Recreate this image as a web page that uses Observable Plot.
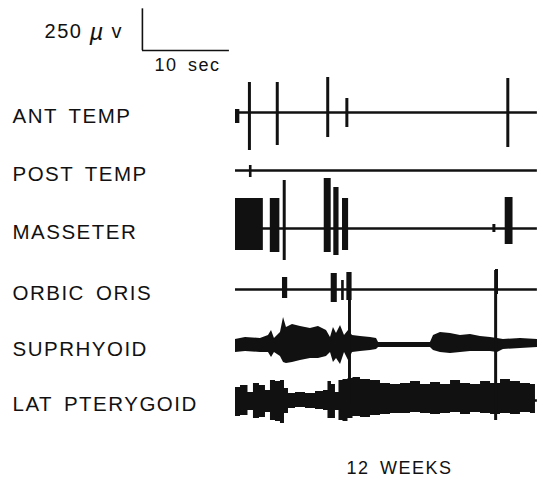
<!DOCTYPE html>
<html><head><meta charset="utf-8">
<script src="https://cdn.jsdelivr.net/npm/d3@7"></script>
<script src="https://cdn.jsdelivr.net/npm/@observablehq/plot@0.6"></script>
<style>
body{margin:0;background:#fff}
#chart svg text{font-family:"Liberation Sans",Arial,sans-serif;letter-spacing:1.5px;word-spacing:4px}
</style>
</head><body><div id="chart"></div>
<script>
// ---- data (time in s, amplitude in µV, up positive) ----
const channels = ["ANT TEMP","POST TEMP","MASSETER","ORBIC ORIS","SUPRHYOID","LAT PTERYGOID"];
const recordLength = 34.7;
const caption = "12 WEEKS";
const scaleBarUV = 250, scaleBarSec = 10;

// single spikes: [channel, t, up, down]
const spikes = [
  [0, 1.6, 180, -228], [0, 4.8, 180, -198], [0, 10.6, 210, -150], [0, 12.8, 84, -90], [0, 31.3, 204, -210],
  [2, 5.6, 288, -192], [2, 29.7, 24, -24],
  [3, 30.0, 120, -30]
];
// bursts: [channel, t1, t2, up, down]
const bursts = [
  [0, 0.0, 0.5, 18, -66],
  [1, 1.6, 1.9, 30, -42],
  [2, 0.0, 3.2, 180, -132], [2, 4.0, 5.1, 180, -144], [2, 10.2, 11.0, 300, -144],
  [2, 11.3, 11.9, 246, -162], [2, 12.3, 13.0, 180, -132], [2, 31.0, 31.9, 186, -96],
  [3, 5.4, 6.0, 72, -54], [3, 11.0, 11.7, 96, -78], [3, 12.2, 12.5, 54, -66], [3, 12.8, 13.4, 102, -66]
];
// spikes crossing traces: [t, fromChannel, fromUp, toChannel, toDown]
const crossSpikes = [[13.1, 3, 102, 5, -18], [29.9, 3, 114, 5, -120]];
// envelopes: [t, up, down]
const suprhyoid = [
  [0,36,-42],[1.15,48,-36],[2.87,42,-42],[3.79,60,-42],[4.14,90,-72],[4.48,42,-42],[5.17,78,-66],
  [5.52,168,-102],[5.86,108,-108],[6.55,126,-102],[7.47,114,-90],[8.62,102,-78],[9.54,114,-78],
  [10.46,90,-66],[10.92,48,-42],[11.26,108,-102],[11.61,72,-78],[12.07,120,-114],[12.53,60,-42],
  [12.99,90,-90],[13.45,60,-42],[14.37,54,-36],[15.52,48,-30],[16.21,42,-24],[16.44,18,-12],
  [18.97,18,-12],[22.41,18,-12],[22.76,60,-30],[23.56,78,-42],[24.71,72,-48],[25.86,60,-42],
  [27.01,66,-36],[28.16,54,-36],[29.31,48,-36],[30.11,42,-42],[30.8,36,-24],[32.76,42,-18],[34.71,36,-12]
];
const latPterygoid = [
  [0,78,-96],[1.15,90,-90],[1.72,48,-60],[2.41,102,-108],[3.1,90,-102],[3.79,60,-72],[4.25,120,-120],
  [4.94,114,-126],[5.4,120,-138],[5.86,72,-78],[6.32,42,-48],[7.47,48,-42],[8.62,42,-48],[9.77,54,-54],
  [10.46,60,-60],[10.8,114,-108],[11.26,96,-108],[11.72,48,-60],[12.07,120,-120],[12.64,126,-126],
  [13.22,132,-108],[13.79,138,-96],[14.94,126,-102],[16.09,120,-90],[17.24,102,-84],[18.39,96,-78],
  [19.54,102,-78],[20.69,114,-72],[21.84,96,-78],[22.99,108,-84],[24.14,96,-78],[25.29,120,-72],
  [26.44,102,-84],[27.59,96,-72],[28.74,114,-78],[29.89,102,-84],[31.03,126,-78],[32.18,114,-84],
  [33.33,102,-72],[34.48,96,-78]
];

// ---- layout ----
const traceOffset = [0, 348, 696, 1062, 1398, 1728]; // display offset (µV) of each trace
const scaleBarX = -10.7, scaleBarY = 372;
const ink = "#111";
const Y = (ch, v) => v - traceOffset[ch];

const chart = Plot.plot({
  width: 543, height: 491,
  marginTop: 0, marginBottom: 0, marginLeft: 0, marginRight: 0,
  x: {domain: [0, 35], range: [235, 539.5], axis: null},
  y: {domain: [-2274, 672], range: [491, 0], axis: null},
  style: {background: "#fff", color: ink},
  marks: [
    Plot.ruleY(channels, {y: (d, i) => -traceOffset[i], x1: 0, x2: recordLength, stroke: ink, strokeWidth: 2.6}),
    Plot.areaY(suprhyoid, {x: d => d[0], y1: d => Y(4, d[2]), y2: d => Y(4, d[1]), fill: ink}),
    Plot.areaY(latPterygoid, {x: d => d[0], y1: d => Y(5, d[2]), y2: d => Y(5, d[1]), fill: ink, curve: "step"}),
    Plot.rect(bursts, {x1: d => d[1], x2: d => d[2], y1: d => Y(d[0], d[4]), y2: d => Y(d[0], d[3]), fill: ink}),
    Plot.ruleX(spikes, {x: d => d[1], y1: d => Y(d[0], d[3]), y2: d => Y(d[0], d[2]), stroke: ink, strokeWidth: 3}),
    Plot.ruleX(crossSpikes, {x: d => d[0], y1: d => Y(d[3], d[4]), y2: d => Y(d[1], d[2]), stroke: ink, strokeWidth: 3}),
    Plot.text(channels, {y: (d, i) => -traceOffset[i], text: d => d, frameAnchor: "left", dx: 12, dy: 4, textAnchor: "start", fontSize: 20.5, fill: ink}),
    // scale bar
    Plot.ruleX([scaleBarX], {y1: scaleBarY, y2: scaleBarY + scaleBarUV, stroke: ink, strokeWidth: 1.6}),
    Plot.ruleY([scaleBarY], {x1: scaleBarX, x2: scaleBarX + scaleBarSec, stroke: ink, strokeWidth: 1.6}),
    Plot.text(["250"], {x: scaleBarX, y: scaleBarY + scaleBarUV / 2, dy: 2, dx: -60, textAnchor: "end", fontSize: 20, fill: ink}),
    Plot.text(["µ"], {x: scaleBarX, y: scaleBarY + scaleBarUV / 2, dy: 3, dx: -53, textAnchor: "start", fontSize: 24, fontStyle: "italic", fill: ink}),
    Plot.text(["v"], {x: scaleBarX, y: scaleBarY + scaleBarUV / 2, dy: 2, dx: -31, textAnchor: "start", fontSize: 20, fill: ink}),
    Plot.text([scaleBarSec + " sec"], {x: scaleBarX + scaleBarSec / 2, y: scaleBarY, dy: 15, dx: 1.5, fontSize: 18, fill: ink}),
    Plot.text([caption], {frameAnchor: "bottom", dx: 127.5, dy: -18, fontSize: 18, fill: ink})
  ]
});
document.getElementById("chart").append(chart);
</script>
</body></html>
